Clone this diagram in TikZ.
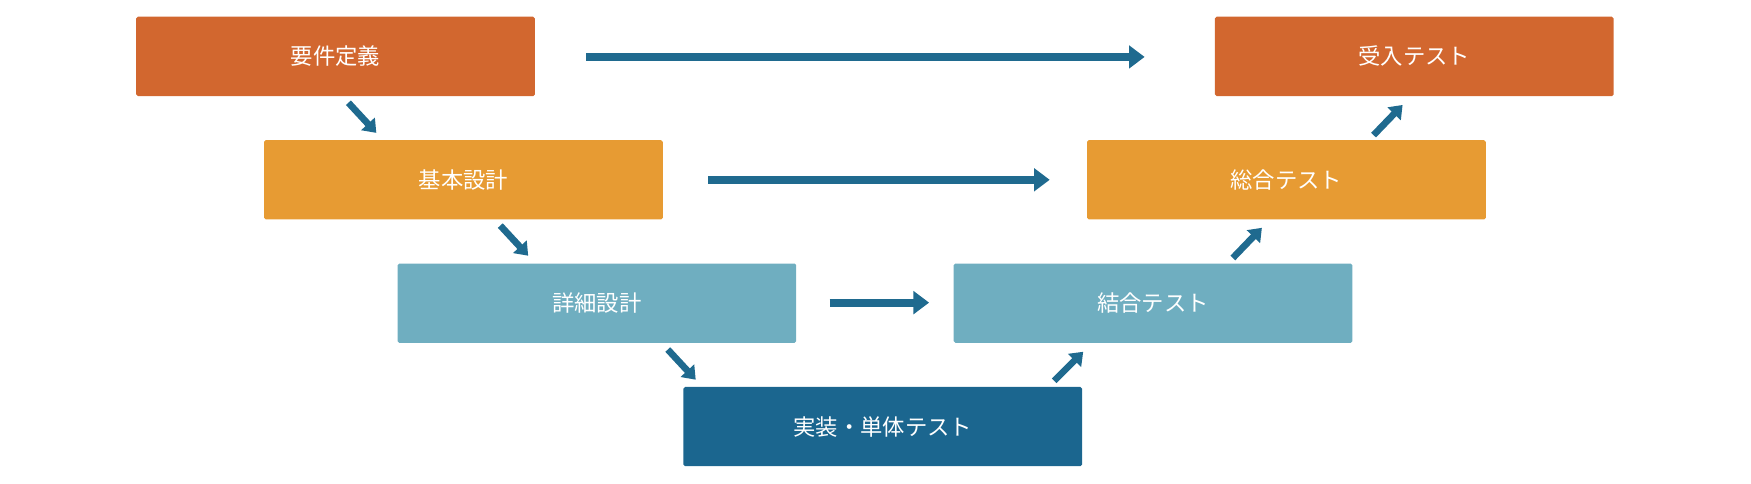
\documentclass[tikz,border=0pt]{standalone}
\usepackage{fontspec}
\setmainfont{Noto Sans CJK JP}
\usetikzlibrary{arrows.meta}
\definecolor{c1}{HTML}{D2672F}
\definecolor{c2}{HTML}{E79B33}
\definecolor{c3}{HTML}{6FAEC0}
\definecolor{c4}{HTML}{1B668F}
\definecolor{ar}{HTML}{1F6A8F}
\begin{document}
\begin{tikzpicture}[x=1pt,y=-1pt,
  box/.style={minimum width=357pt,minimum height=71pt,inner sep=0pt,text=white,font=\fontsize{20}{24}\selectfont,rounded corners=1.5pt},
  arr/.style={draw=ar,line width=7pt,-{Triangle[length=14pt,width=20pt]}}]
\useasboundingbox (0,0) rectangle (1568,433);
\node[box,fill=c1] (a) at (300.5,50.5) {要件定義};
\node[box,fill=c1] (g) at (1266.5,50.5) {受入テスト};
\node[box,fill=c2] (b) at (415,161) {基本設計};
\node[box,fill=c2] (f) at (1152,161) {総合テスト};
\node[box,fill=c3] (c) at (534.5,271.5) {詳細設計};
\node[box,fill=c3] (e) at (1032.5,271.5) {結合テスト};
\node[box,fill=c4] (d) at (790.5,382) {実装・単体テスト};
\coordinate (h1) at (525,51); \coordinate (h1e) at (1025,51);
\coordinate (h2) at (634,161); \coordinate (h2e) at (940,161);
\coordinate (h3) at (743,271); \coordinate (h3e) at (832,271);
\draw[arr] (h1) -- (h1e);
\draw[arr] (h2) -- (h2e);
\draw[arr] (h3) -- (h3e);
\draw[arr,line width=6pt,-{Triangle[length=11pt,width=16pt]}] (312,92) -- (337,119);
\draw[arr,line width=6pt,-{Triangle[length=11pt,width=16pt]}] (448,202) -- (473,229);
\draw[arr,line width=6pt,-{Triangle[length=11pt,width=16pt]}] (598,313) -- (623,340);
\draw[arr,line width=6pt,-{Triangle[length=11pt,width=16pt]}] (944,341) -- (970,315);
\draw[arr,line width=6pt,-{Triangle[length=11pt,width=16pt]}] (1104,231) -- (1130,204);
\draw[arr,line width=6pt,-{Triangle[length=11pt,width=16pt]}] (1230,121) -- (1256,94);
\end{tikzpicture}
\end{document}
